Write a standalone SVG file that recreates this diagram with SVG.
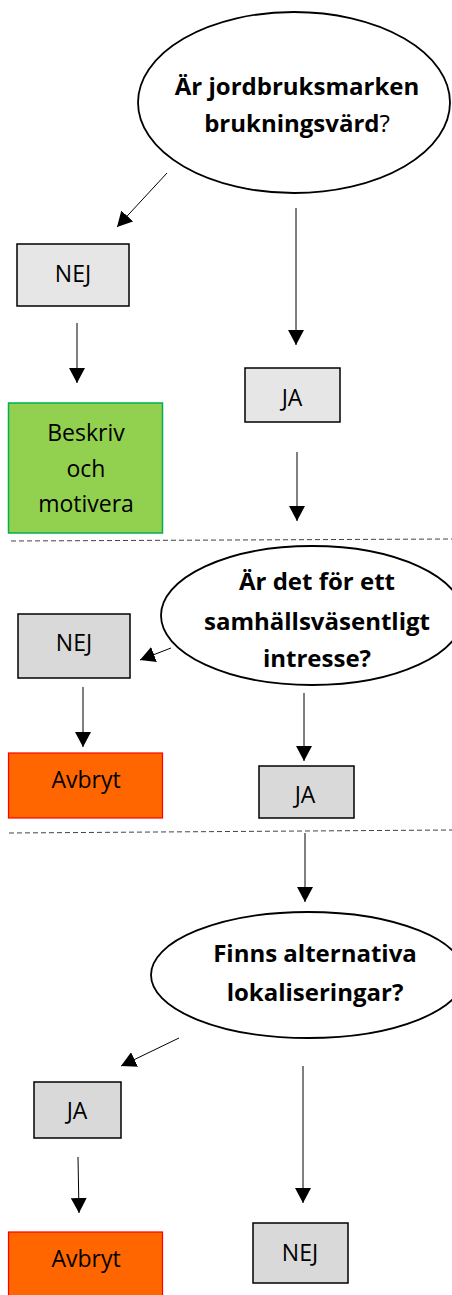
<svg xmlns="http://www.w3.org/2000/svg" width="452" height="1295" viewBox="0 0 452 1295">
<style>
.q{font-family:"Open Sans","Liberation Sans",sans-serif;font-weight:bold;font-size:24px;fill:#000;text-anchor:middle}
.t{font-family:"Open Sans","Liberation Sans",sans-serif;font-size:23px;fill:#000;text-anchor:middle}
.ell{fill:#fff;stroke:#000;stroke-width:1.8}
.gray{fill:#d9d9d9;stroke:#000;stroke-width:1.5}
.gray1{fill:#e6e6e6;stroke:#000;stroke-width:1.5}
.green{fill:#92d050;stroke:#00b050;stroke-width:1.5}
.red{fill:#ff6600;stroke:#ff0000;stroke-width:1.2}
.ln{stroke:#000;stroke-width:1;fill:none;marker-end:url(#ah)}
.dash{stroke:#444;stroke-width:1;stroke-dasharray:5 3;fill:none}
</style>
<defs>
<marker id="ah" markerWidth="15" markerHeight="16" refX="15" refY="8" orient="auto" markerUnits="userSpaceOnUse">
<path d="M0,0 L15,8 L0,16 Z" fill="#000"/>
</marker>
</defs>
<rect width="452" height="1295" fill="#fff"/>
<g id="connectors">
<line class="ln" x1="167" y1="173" x2="117" y2="227"/>
<line class="ln" x1="296" y1="208" x2="296" y2="345"/>
<line class="ln" x1="77" y1="323" x2="77" y2="383"/>
<line class="ln" x1="297" y1="452" x2="297" y2="521"/>
<line class="ln" x1="171" y1="648" x2="140" y2="660"/>
<line class="ln" x1="83" y1="687" x2="83" y2="747"/>
<line class="ln" x1="304" y1="693" x2="304" y2="761"/>
<line class="ln" x1="305" y1="833" x2="305" y2="902"/>
<line class="ln" x1="179" y1="1038" x2="121" y2="1066"/>
<line class="ln" x1="78" y1="1157" x2="79" y2="1213"/>
<line class="ln" x1="303" y1="1066" x2="303" y2="1203"/>
<line class="dash" x1="11" y1="541" x2="452" y2="539"/>
<line class="dash" x1="9" y1="833" x2="452" y2="830"/>
</g>
<g id="q1">
<ellipse class="ell" cx="294" cy="102.5" rx="156" ry="90.5"/>
<text class="q" x="297" y="95">Är jordbruksmarken</text>
<text class="q" x="297" y="132">brukningsvärd<tspan font-weight="normal">?</tspan></text>
</g>
<g id="nej1">
<rect class="gray1" x="17" y="244" width="112" height="62"/>
<text class="t" x="73" y="282">NEJ</text>
</g>
<g id="beskriv">
<rect class="green" x="8.5" y="403" width="154" height="130"/>
<text class="t" x="86" y="441">Beskriv</text>
<text class="t" x="86" y="477">och</text>
<text class="t" x="86" y="512">motivera</text>
</g>
<g id="ja1">
<rect class="gray1" x="245" y="368" width="95" height="54"/>
<text class="t" x="292" y="406">JA</text>
</g>
<g id="q2">
<ellipse class="ell" cx="312" cy="615.5" rx="151" ry="69.5"/>
<text class="q" x="317" y="590">Är det för ett</text>
<text class="q" x="317" y="630">samhällsväsentligt</text>
<text class="q" x="317" y="667">intresse?</text>
</g>
<g id="nej2">
<rect class="gray" x="18" y="614" width="112" height="64"/>
<text class="t" x="74" y="651">NEJ</text>
</g>
<g id="avbryt1">
<rect class="red" x="8.5" y="753" width="154" height="65"/>
<text class="t" x="86" y="788">Avbryt</text>
</g>
<g id="ja2">
<rect class="gray" x="259" y="766" width="95" height="52"/>
<text class="t" x="305" y="803">JA</text>
</g>
<g id="q3">
<ellipse class="ell" cx="308" cy="975" rx="157" ry="63"/>
<text class="q" x="315" y="962">Finns alternativa</text>
<text class="q" x="315" y="1001">lokaliseringar?</text>
</g>
<g id="ja3">
<rect class="gray" x="34" y="1082" width="87" height="56"/>
<text class="t" x="77" y="1119">JA</text>
</g>
<g id="avbryt2">
<rect class="red" x="8.5" y="1232" width="154" height="70"/>
<text class="t" x="86" y="1267">Avbryt</text>
</g>
<g id="nej3">
<rect class="gray" x="253" y="1223" width="95" height="60"/>
<text class="t" x="300" y="1261">NEJ</text>
</g>
</svg>
